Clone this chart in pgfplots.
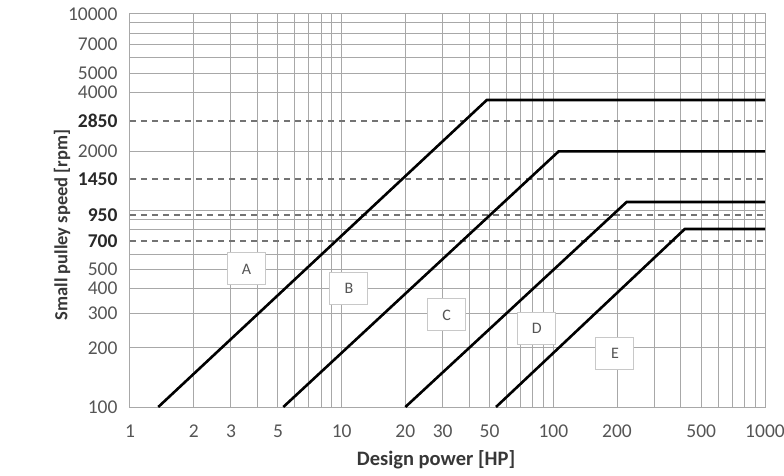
\documentclass[border=0pt]{standalone}
\usepackage{fontspec}
\setmainfont{Carlito}
\usepackage{pgfplots}
\pgfplotsset{compat=1.18}
\definecolor{gridc}{RGB}{168,168,168}
\definecolor{dashc}{RGB}{115,115,115}
\definecolor{tickc}{RGB}{85,85,85}
\definecolor{boldc}{RGB}{40,40,40}
\definecolor{labc}{RGB}{55,55,55}
\definecolor{boxc}{RGB}{200,200,200}
\begin{document}
\begin{tikzpicture}
\begin{axis}[
  name=ax,
  scale only axis,
  width=635pt, height=393pt,
  xmode=log, ymode=log,
  xmin=1, xmax=1000, ymin=100, ymax=10000,
  axis line style={gridc, line width=1pt},
  major tick length=0pt, minor tick length=0pt,
  /pgf/number format/assume math mode=true,
  xtick={1,2,3,5,10,20,30,50,100,200,500,1000},
  xticklabels={1,2,3,5,10,20,30,50,100,200,500,1000},
  minor xtick={4,6,7,8,9,40,60,70,80,90,300,400,600,700,800,900},
  xmajorgrids, xminorgrids,
  ytick={100,200,300,400,500,2000,4000,5000,7000,10000},
  yticklabels={100,200,300,400,500,2000,4000,5000,7000,10000},
  minor ytick={600,800,900,1000,6000,8000,9000},
  ymajorgrids, yminorgrids,
  major grid style={gridc, line width=1pt},
  minor grid style={gridc, line width=1pt},
  extra y ticks={700,950,1450,2850},
  extra y tick labels={\textbf{700},\textbf{950},\textbf{1450},\textbf{2850}},
  extra y tick style={
    major grid style={dashc, line width=1.7pt, dash pattern=on 6pt off 5pt},
    yticklabel style={text=boldc},
  },
  tick label style={font=\fontsize{19.5}{19.5}\selectfont, text=tickc},
  yticklabel style={xshift=-9pt},
  xticklabel style={yshift=-14pt},
  xlabel={\textbf{Design power [HP]}},
  ylabel={\textbf{Small pulley speed [rpm]}},
  xlabel style={font=\fontsize{20.5}{21}\selectfont, text=labc,
    at={(axis description cs:0.482,-0.135)}, anchor=center},
  ylabel style={font=\fontsize{18.5}{19}\selectfont, text=labc,
    at={(axis description cs:-0.107,0.463)}, anchor=center},
  clip=false,
]
\addplot[black, line width=2.6pt] coordinates {(1.36,100) (48.5,3650) (1000,3650)};
\addplot[black, line width=2.6pt] coordinates {(5.3,100) (106,2000) (1000,2000)};
\addplot[black, line width=2.6pt] coordinates {(20,100) (222,1105) (1000,1105)};
\addplot[black, line width=2.6pt] coordinates {(53.6,100) (418,805) (1000,805)};
\tikzset{lbl/.style={draw=boxc, line width=1pt, fill=white, minimum width=38pt, minimum height=32pt, inner sep=0pt, text=tickc, font=\fontsize{16}{16}\selectfont}}
\node[lbl] at (axis cs:3.55,504) {A};
\node[lbl] at (axis cs:10.83,403) {B};
\node[lbl] at (axis cs:31.3,294) {C};
\node[lbl] at (axis cs:83.6,252) {D};
\node[lbl] at (axis cs:195.4,188) {E};
\end{axis}
\pgfresetboundingbox
\path[use as bounding box] (ax.south west) ++(-130pt,-68pt) rectangle ++(784pt,475pt);
\end{tikzpicture}
\end{document}
